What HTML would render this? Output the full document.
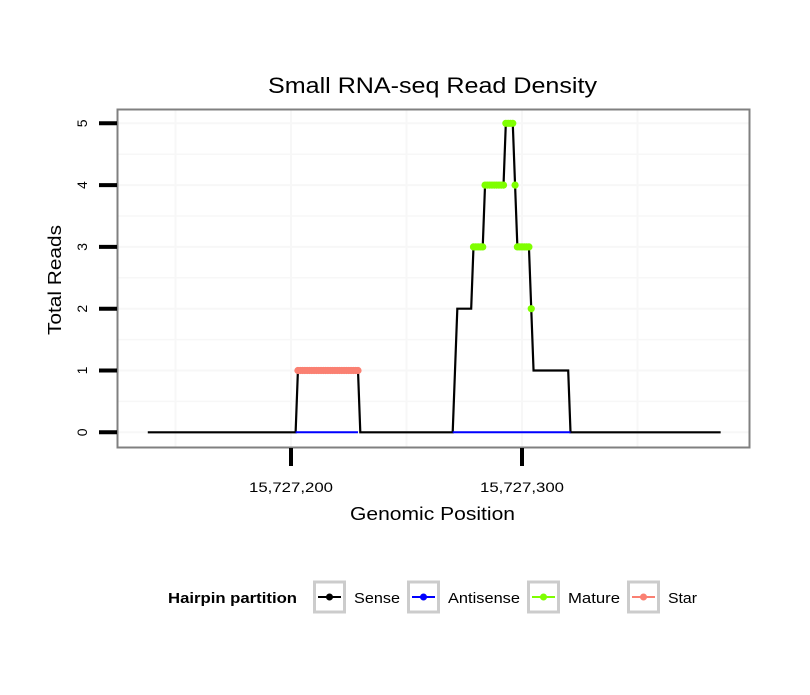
<!DOCTYPE html>
<html><head><meta charset="utf-8"><style>
body{margin:0;background:#fff;}
svg text{font-family:"Liberation Sans",sans-serif;}
</style></head><body>
<svg id="chart" width="810" height="690" xmlns="http://www.w3.org/2000/svg">
<rect width="810" height="690" fill="#fff"/>
<text x="268" y="93" font-size="22" textLength="329" lengthAdjust="spacingAndGlyphs">Small RNA-seq Read Density</text>
<rect x="117.5" y="109.5" width="632" height="338" fill="#fff"/>
<g id="grid"></g>
<g id="series"></g>
<rect x="117.5" y="109.5" width="632" height="338" fill="none" stroke="#808080" stroke-width="2"/>
<g id="axes"></g>
<text x="350" y="520" font-size="18" textLength="165" lengthAdjust="spacingAndGlyphs">Genomic Position</text>
<text transform="translate(61,335) rotate(-90)" font-size="18" textLength="110" lengthAdjust="spacingAndGlyphs">Total Reads</text>
<g>
<text x="168" y="603" font-size="15" font-weight="bold" textLength="129" lengthAdjust="spacingAndGlyphs">Hairpin partition</text>
<g id="legend"></g>
</g>
</svg>
<script>
const senseX=[15727138,15727202,15727203,15727229,15727230,15727270,15727272,15727278,15727279,15727283,15727284,15727292,15727293,15727296,15727297,15727298,15727303,15727304,15727305,15727320,15727321,15727386];
const senseY=[0,0,1,1,0,0,2,2,3,3,4,4,5,5,4,3,3,2,1,1,0,0];
const antiSegments=[[15727202,15727229],[15727270,15727321]];
const matureX=[15727279,15727280,15727281,15727282,15727283,15727284,15727285,15727286,15727287,15727288,15727289,15727290,15727291,15727292,15727293,15727294,15727295,15727296,15727297,15727298,15727299,15727300,15727301,15727302,15727303,15727304];
const matureY=[3,3,3,3,3,4,4,4,4,4,4,4,4,4,5,5,5,5,4,3,3,3,3,3,3,2];
const starX=[15727203,15727204,15727205,15727206,15727207,15727208,15727209,15727210,15727211,15727212,15727213,15727214,15727215,15727216,15727217,15727218,15727219,15727220,15727221,15727222,15727223,15727224,15727225,15727226,15727227,15727228,15727229];
const starY=[1,1,1,1,1,1,1,1,1,1,1,1,1,1,1,1,1,1,1,1,1,1,1,1,1,1,1];
const xTicks=[15727200,15727300];
const xTickLabels=["15,727,200","15,727,300"];
const yTicks=[0,1,2,3,4,5];
const legendLabels=["Sense","Antisense","Mature","Star"];
const legendColors=["#000000","#0000ff","#7fff00","#fa8072"];

const NS="http://www.w3.org/2000/svg";
const X=v=>291+(v-15727200)*2.31;
const Y=v=>432.3-v*61.8;
function mk(tag,attrs,parent){const e=document.createElementNS(NS,tag);for(const k in attrs)e.setAttribute(k,attrs[k]);parent.appendChild(e);return e;}
const grid=document.getElementById('grid'),ser=document.getElementById('series'),ax=document.getElementById('axes'),lg=document.getElementById('legend');
for(let v=-0.5;v<=5.5;v+=0.5){const y=Y(v);if(y<110||y>447)continue;
 const l=mk('line',{x1:118,x2:749,y1:y,y2:y,stroke:'#f7f7f7','stroke-width':Number.isInteger(v)?2:1.5},grid);
 
 }
for(let v=15727150;v<=15727400;v+=50){const x=X(v);if(x<118||x>749)continue;
 const l=mk('line',{x1:x,x2:x,y1:110,y2:447,stroke:'#f7f7f7','stroke-width':2},grid);
 
 }
let d=senseX.map((v,i)=>(i?'L':'M')+X(v)+','+Y(senseY[i])).join(' ');
const sl=mk('path',{d:d,fill:'none',stroke:'#000','stroke-width':2.2},ser);


antiSegments.forEach(s=>{const l=mk('line',{x1:X(s[0]),x2:X(s[1]),y1:Y(0),y2:Y(0),stroke:'#0000ff','stroke-width':2},ser);
 
 });
starX.forEach((v,i)=>{const c=mk('circle',{cx:X(v),cy:Y(starY[i]),r:3.6,fill:'#fa8072'},ser);
 
 });
matureX.forEach((v,i)=>{const c=mk('circle',{cx:X(v),cy:Y(matureY[i]),r:3.6,fill:'#7fff00'},ser);
 
 });
yTicks.forEach(v=>{const y=Y(v);
 const t=mk('line',{x1:99,x2:117,y1:y,y2:y,stroke:'#000','stroke-width':4},ax);
 
 
 const tx=mk('text',{transform:`translate(87,${y}) rotate(-90)`,'font-size':14,'text-anchor':'middle'},ax);tx.textContent=v;
 
 });
xTicks.forEach((v,i)=>{const x=X(v);
 const t=mk('line',{x1:x,x2:x,y1:448,y2:466,stroke:'#000','stroke-width':4},ax);
 
 
 const tx=mk('text',{x:x-42,y:492,'font-size':14,textLength:84,lengthAdjust:'spacingAndGlyphs'},ax);tx.textContent=xTickLabels[i];
 
 });
const lx=[313,407,527,627];
const tx0=[354,448,568,668];
const tw=[46,72,52,29];
legendLabels.forEach((lab,i)=>{const x=lx[i];
 const g=mk('g',{},lg);
 
 
 mk('rect',{x:x+1.5,y:582,width:30,height:30,fill:'#fff',stroke:'#cccccc','stroke-width':3},g);
 mk('line',{x1:x+5,x2:x+28,y1:597,y2:597,stroke:legendColors[i],'stroke-width':2},g);
 mk('circle',{cx:x+16.5,cy:597,r:3.5,fill:legendColors[i]},g);
 const t=mk('text',{x:tx0[i],y:603,'font-size':15,textLength:tw[i],lengthAdjust:'spacingAndGlyphs'},g);t.textContent=lab;});
</script>
</body></html>
